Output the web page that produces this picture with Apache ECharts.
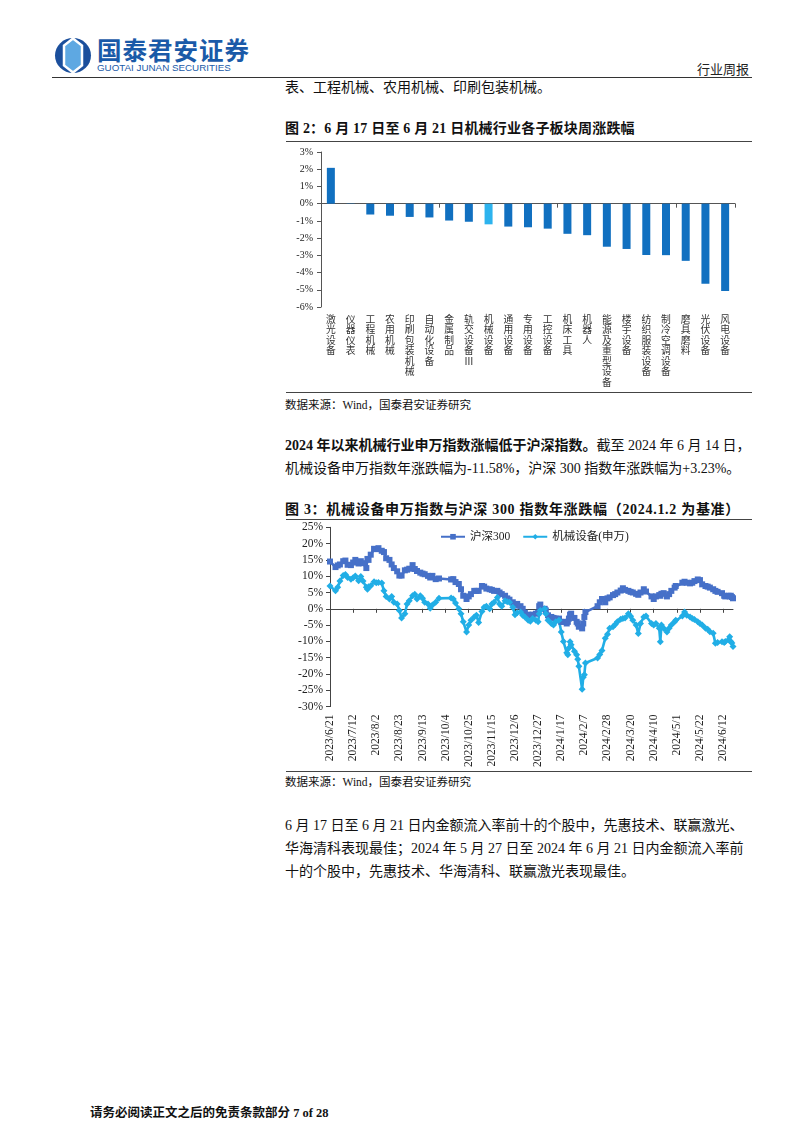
<!DOCTYPE html>
<html><head><meta charset="utf-8">
<script src="https://cdn.jsdelivr.net/npm/echarts@6/dist/echarts.min.js"></script>
<style>
html,body{margin:0;padding:0;background:#fff;}
body{width:802px;height:1133px;position:relative;overflow:hidden;font-family:"Liberation Serif","Noto Sans CJK SC",serif;color:#111;}
.abs{position:absolute;white-space:nowrap;}
.body{font-size:14px;line-height:20px;}
.just{text-align:justify;text-align-last:justify;width:458px;}
.hr{position:absolute;height:0;border-top:1.5px solid #444;}
.title{font-weight:bold;font-size:14px;line-height:20px;}
.src{font-size:11.5px;line-height:16px;}
</style></head><body>

<svg class="abs" style="left:54px;top:37px" width="38" height="37" viewBox="0 0 38 36">
  <ellipse cx="19" cy="18" rx="18" ry="17.5" fill="#1b4f9c"/>
  <polygon points="19,1 28,8 28,28 19,35 10,28 10,8" fill="#5ea8e2" stroke="#fff" stroke-width="2.5"/>
</svg>
<div class="abs" style="left:97px;top:36px;font-family:'Noto Sans CJK SC';font-weight:bold;font-size:24.5px;line-height:28px;color:#1a5aa8;letter-spacing:1px;">国泰君安证券</div>
<div class="abs" style="left:97px;top:62px;font-family:'Liberation Sans';font-size:9.8px;line-height:11px;color:#1a5aa8;">GUOTAI JUNAN SECURITIES</div>
<div class="abs" style="left:697px;top:60px;font-family:'Noto Sans CJK SC';font-size:13px;line-height:18px;color:#222;">行业周报</div>
<div class="hr" style="left:52px;top:77px;width:700px;border-top:1.5px solid #333;"></div>

<div class="abs body" style="left:285px;top:78px;">表、工程机械、农用机械、印刷包装机械。</div>

<div class="abs title" style="left:285px;top:119px;letter-spacing:0.2px;">图 2：6 月 17 日至 6 月 21 日机械行业各子板块周涨跌幅</div>
<div class="hr" style="left:286px;top:141px;width:466px;"></div>
<div id="c1" class="abs" style="left:0;top:140px;width:802px;height:252px;"></div>
<div class="hr" style="left:286px;top:392px;width:466px;"></div>
<div class="abs src" style="left:285px;top:397px;">数据来源：Wind，国泰君安证券研究</div>

<div class="abs body just" style="left:285px;top:436px;"><b>2024 年以来机械行业申万指数涨幅低于沪深指数。</b>截至 2024 年 6 月 14 日，</div>
<div class="abs body just" style="left:285px;top:459px;width:454px;">机械设备申万指数年涨跌幅为-11.58%，沪深 300 指数年涨跌幅为+3.23%。</div>

<div class="abs title" style="left:285px;top:500px;letter-spacing:0.7px;">图 3：机械设备申万指数与沪深 300 指数年涨跌幅（2024.1.2 为基准）</div>
<div class="hr" style="left:286px;top:519px;width:466px;"></div>
<div id="c2" class="abs" style="left:0;top:520px;width:802px;height:250px;"></div>
<div class="hr" style="left:286px;top:771px;width:466px;"></div>
<div class="abs src" style="left:285px;top:774px;">数据来源：Wind，国泰君安证券研究</div>

<div class="abs body just" style="left:285px;top:816px;">6 月 17 日至 6 月 21 日内金额流入率前十的个股中，先惠技术、联赢激光、</div>
<div class="abs body just" style="left:285px;top:839px;">华海清科表现最佳；2024 年 5 月 27 日至 2024 年 6 月 21 日内金额流入率前</div>
<div class="abs body" style="left:285px;top:862px;">十的个股中，先惠技术、华海清科、联赢激光表现最佳。</div>

<div class="abs" style="left:90px;top:1104px;font-weight:bold;font-size:12.5px;line-height:18px;">请务必阅读正文之后的免责条款部分 7 of 28</div>

<script>
// ---------- Figure 2 data ----------
var sectors = ['激光设备','仪器仪表','工程机械','农用机械','印刷包装机械','自动化设备','金属制品','轨交设备Ⅲ','机械设备','通用设备','专用设备','工控设备','机床工具','机器人','能源及重型设备','楼宇设备','纺织服装设备','制冷空调设备','磨具磨料','光伏设备','风电设备'];
var weeklyChange = [2.08,-0.02,-0.63,-0.70,-0.77,-0.80,-0.98,-1.05,-1.20,-1.33,-1.37,-1.45,-1.75,-1.83,-2.50,-2.63,-2.98,-2.99,-3.32,-4.65,-5.07];
var highlightSector = '机械设备';

// ---------- Figure 3 data ----------
var dates = ['2023-06-21','2023-06-26','2023-06-28','2023-06-30','2023-07-03','2023-07-05','2023-07-07','2023-07-10','2023-07-12','2023-07-14','2023-07-17','2023-07-19','2023-07-21','2023-07-24','2023-07-25','2023-07-26','2023-07-28','2023-07-31','2023-08-02','2023-08-04','2023-08-07','2023-08-09','2023-08-11','2023-08-14','2023-08-16','2023-08-18','2023-08-21','2023-08-23','2023-08-25','2023-08-28','2023-08-30','2023-09-01','2023-09-04','2023-09-06','2023-09-08','2023-09-11','2023-09-13','2023-09-15','2023-09-18','2023-09-20','2023-09-22','2023-09-25','2023-09-28','2023-10-09','2023-10-11','2023-10-13','2023-10-16','2023-10-18','2023-10-20','2023-10-23','2023-10-25','2023-10-27','2023-10-30','2023-11-01','2023-11-03','2023-11-06','2023-11-08','2023-11-10','2023-11-13','2023-11-15','2023-11-17','2023-11-20','2023-11-22','2023-11-24','2023-11-27','2023-11-29','2023-12-01','2023-12-04','2023-12-06','2023-12-08','2023-12-11','2023-12-13','2023-12-15','2023-12-18','2023-12-20','2023-12-22','2023-12-25','2023-12-27','2023-12-28','2023-12-29','2024-01-02','2024-01-03','2024-01-05','2024-01-08','2024-01-10','2024-01-12','2024-01-15','2024-01-17','2024-01-19','2024-01-22','2024-01-23','2024-01-24','2024-01-25','2024-01-26','2024-01-29','2024-01-31','2024-02-01','2024-02-02','2024-02-05','2024-02-06','2024-02-07','2024-02-08','2024-02-19','2024-02-21','2024-02-23','2024-02-26','2024-02-28','2024-03-01','2024-03-04','2024-03-06','2024-03-08','2024-03-11','2024-03-13','2024-03-15','2024-03-18','2024-03-20','2024-03-22','2024-03-25','2024-03-27','2024-03-29','2024-04-01','2024-04-03','2024-04-08','2024-04-10','2024-04-12','2024-04-15','2024-04-16','2024-04-17','2024-04-19','2024-04-22','2024-04-24','2024-04-26','2024-04-29','2024-04-30','2024-05-06','2024-05-08','2024-05-10','2024-05-13','2024-05-15','2024-05-17','2024-05-20','2024-05-22','2024-05-24','2024-05-27','2024-05-29','2024-05-31','2024-06-03','2024-06-05','2024-06-07','2024-06-11','2024-06-13','2024-06-14','2024-06-17','2024-06-18','2024-06-19','2024-06-20','2024-06-21'];
var hs300 = [14.5,12.8,13.3,13.6,14.6,14.8,13.5,13.4,14.2,15.0,13.9,14.6,14.0,12.5,15.3,15.0,16.6,18.4,18.3,18.6,17.8,17.4,15.5,15.0,13.6,12.5,11.5,10.2,10.2,11.8,12.0,12.3,13.4,12.2,11.6,11.1,10.8,10.6,10.1,9.6,10.1,9.1,9.3,9.0,9.1,8.2,7.6,6.0,4.0,3.0,3.8,4.5,5.5,5.5,5.5,7.0,6.8,6.2,6.0,5.8,5.5,5.5,5.0,4.5,4.0,3.2,2.8,2.0,1.0,1.5,0.8,0.0,-1.2,-1.8,-2.0,-1.8,-1.5,-1.2,0.8,1.3,0,-0.5,-2.0,-2.5,-2.8,-3.0,-3.0,-4.0,-4.0,-4.5,-4.0,-3.0,-1.8,-1.5,-2.8,-4.0,-4.5,-5.5,-6.0,-4.5,-2.5,-1.0,0.8,2.0,3.0,2.0,3.2,3.5,4.2,4.5,5.0,5.6,6.3,5.8,5.5,5.2,5.0,4.6,4.3,5.0,6.0,5.3,3.8,3.0,3.8,4.2,4.0,4.6,4.8,3.8,4.5,5.5,6.5,7.0,8.0,8.3,8.0,7.8,8.0,8.5,9.0,8.8,7.5,7.0,6.8,6.5,6.0,5.5,5.2,4.8,4.0,3.8,4.0,3.8,4.0,3.6,3.23];
var machinery = [7.0,5.5,6.6,8.5,10.2,10.5,9.6,9.1,9.5,10.1,8.6,9.9,8.5,6.6,6.0,6.8,7.1,8.3,8.0,8.1,7.9,5.5,3.8,3.0,3.8,2.0,1.5,-0.5,-2.8,-1.5,1.5,2.5,4.0,4.5,3.0,4.0,3.2,2.0,1.5,0.2,1.2,2.0,3.2,3.3,3.0,1.8,0.0,-1.5,-4.0,-7.1,-5.0,-3.5,-2.5,-2.0,-4.2,-0.8,0.5,0.8,0.0,1.5,2.0,3.5,1.5,0.8,2.5,2.2,2.0,0.5,-1.8,-1.2,-1.0,-2.0,-2.5,-3.5,-3.8,-3.0,-3.5,-4.0,-1.5,-0.5,0,-1.5,-3.5,-4.5,-5.0,-4.0,-3.5,-7.1,-10.0,-13.5,-14.1,-12.0,-10.1,-11.0,-13.0,-14.1,-15.5,-17.6,-24.7,-21.0,-20.2,-16.6,-15.1,-14.0,-12.8,-9.0,-7.8,-6.0,-5.5,-4.8,-4.0,-3.2,-3.0,-2.8,-1.5,-2.3,-3.5,-5.0,-7.6,-4.5,-2.5,-2.2,-4.5,-5.0,-4.5,-6.0,-10.1,-5.0,-6.0,-7.1,-6.0,-5.0,-4.0,-3.5,-2.2,-1.0,-2.0,-2.5,-3.0,-3.3,-4.0,-4.5,-5.0,-6.0,-6.3,-7.0,-7.5,-10.6,-10.3,-10.1,-10.3,-10.0,-9.5,-8.6,-10.0,-10.5,-11.58];
var seriesNames = ['沪深300','机械设备(申万)'];
var axisStart = '2023-06-21', axisEnd = '2024-06-21', tickStepDays = 21;

var SERIF = '"Liberation Serif","Noto Sans CJK SC",serif';
var DARK = '#1170c0', LIGHT = '#2db3ee';

// ---------- Chart 1 ----------
var c1 = echarts.init(document.getElementById('c1'));
c1.setOption({
  animation:false,
  grid:{left:321,right:67,top:12,height:155},
  xAxis:[{
    type:'category', data:sectors,
    axisLine:{onZero:true,lineStyle:{color:'#555',width:1}},
    axisTick:{show:true,length:4,alignWithLabel:false,lineStyle:{color:'#555'}},
    axisLabel:{show:false}
  },{
    type:'category', data:sectors, position:'bottom',
    axisLine:{show:false,onZero:false}, axisTick:{show:false},
    axisLabel:{interval:0,margin:7,color:'#333',fontSize:9.8,lineHeight:10.5,fontFamily:'"Noto Sans CJK SC"',
      formatter:function(v){return v.split('').join('\n');}}
  }],
  yAxis:{
    type:'value',min:-6,max:3,interval:1,
    axisLine:{show:true,lineStyle:{color:'#555'}},
    axisTick:{show:true,length:4,lineStyle:{color:'#555'}},
    splitLine:{show:false},
    axisLabel:{margin:8,color:'#222',fontSize:10,fontFamily:SERIF,formatter:function(v){return v+'%';}}
  },
  series:[{
    type:'bar',data:weeklyChange,barWidth:8,
    itemStyle:{color:function(p){return p.name===highlightSector?LIGHT:DARK;}}
  }]
});

// ---------- Chart 2 ----------
function dayOf(s){var p=s.split('-');return Date.UTC(+p[0],+p[1]-1,+p[2])/86400000;}
var d0 = dayOf(axisStart), dMax = dayOf(axisEnd)-d0;
var tickVals=[];for(var t=0;t<=dMax;t+=tickStepDays)tickVals.push(t);
function fmtDay(v){var d=new Date((d0+v)*86400000);return d.getUTCFullYear()+'/'+(d.getUTCMonth()+1)+'/'+d.getUTCDate();}
function pairs(vals){return dates.map(function(s,i){return [dayOf(s)-d0, vals[i]];});}

var c2 = echarts.init(document.getElementById('c2'));
c2.setOption({
  animation:false,
  grid:{left:330,right:69,top:7.3,height:182},
  legend:{left:435,top:6,itemWidth:24,itemHeight:7,itemGap:12,
    textStyle:{fontSize:11.5,fontFamily:SERIF,color:'#222'},data:seriesNames},
  xAxis:[{
    type:'value',min:0,max:dMax,
    axisLine:{onZero:true,lineStyle:{color:'#444'}},
    axisTick:{show:true,length:4,customValues:tickVals,lineStyle:{color:'#444'}},
    axisLabel:{show:false},splitLine:{show:false}
  },{
    type:'value',min:0,max:dMax,position:'bottom',
    axisLine:{show:false,onZero:false},axisTick:{show:false},splitLine:{show:false},
    axisLabel:{customValues:tickVals,rotate:90,margin:8,fontSize:11.5,fontFamily:SERIF,color:'#222',formatter:fmtDay}
  }],
  yAxis:{
    type:'value',min:-30,max:25,interval:5,
    axisLine:{show:true,lineStyle:{color:'#444'}},
    axisTick:{show:true,length:4,lineStyle:{color:'#444'}},
    splitLine:{show:false},
    axisLabel:{margin:7,fontSize:11.5,fontFamily:SERIF,color:'#222',formatter:function(v){return v+'%';}}
  },
  series:[{
    name:seriesNames[0],type:'line',data:pairs(hs300),
    symbol:'rect',symbolSize:6,showSymbol:true,
    lineStyle:{color:'#4670c8',width:2.6},itemStyle:{color:'#4670c8'}
  },{
    name:seriesNames[1],type:'line',data:pairs(machinery),
    symbol:'diamond',symbolSize:7,showSymbol:true,
    lineStyle:{color:'#21aee6',width:2.6},itemStyle:{color:'#21aee6'}
  }]
});
</script>
</body></html>
